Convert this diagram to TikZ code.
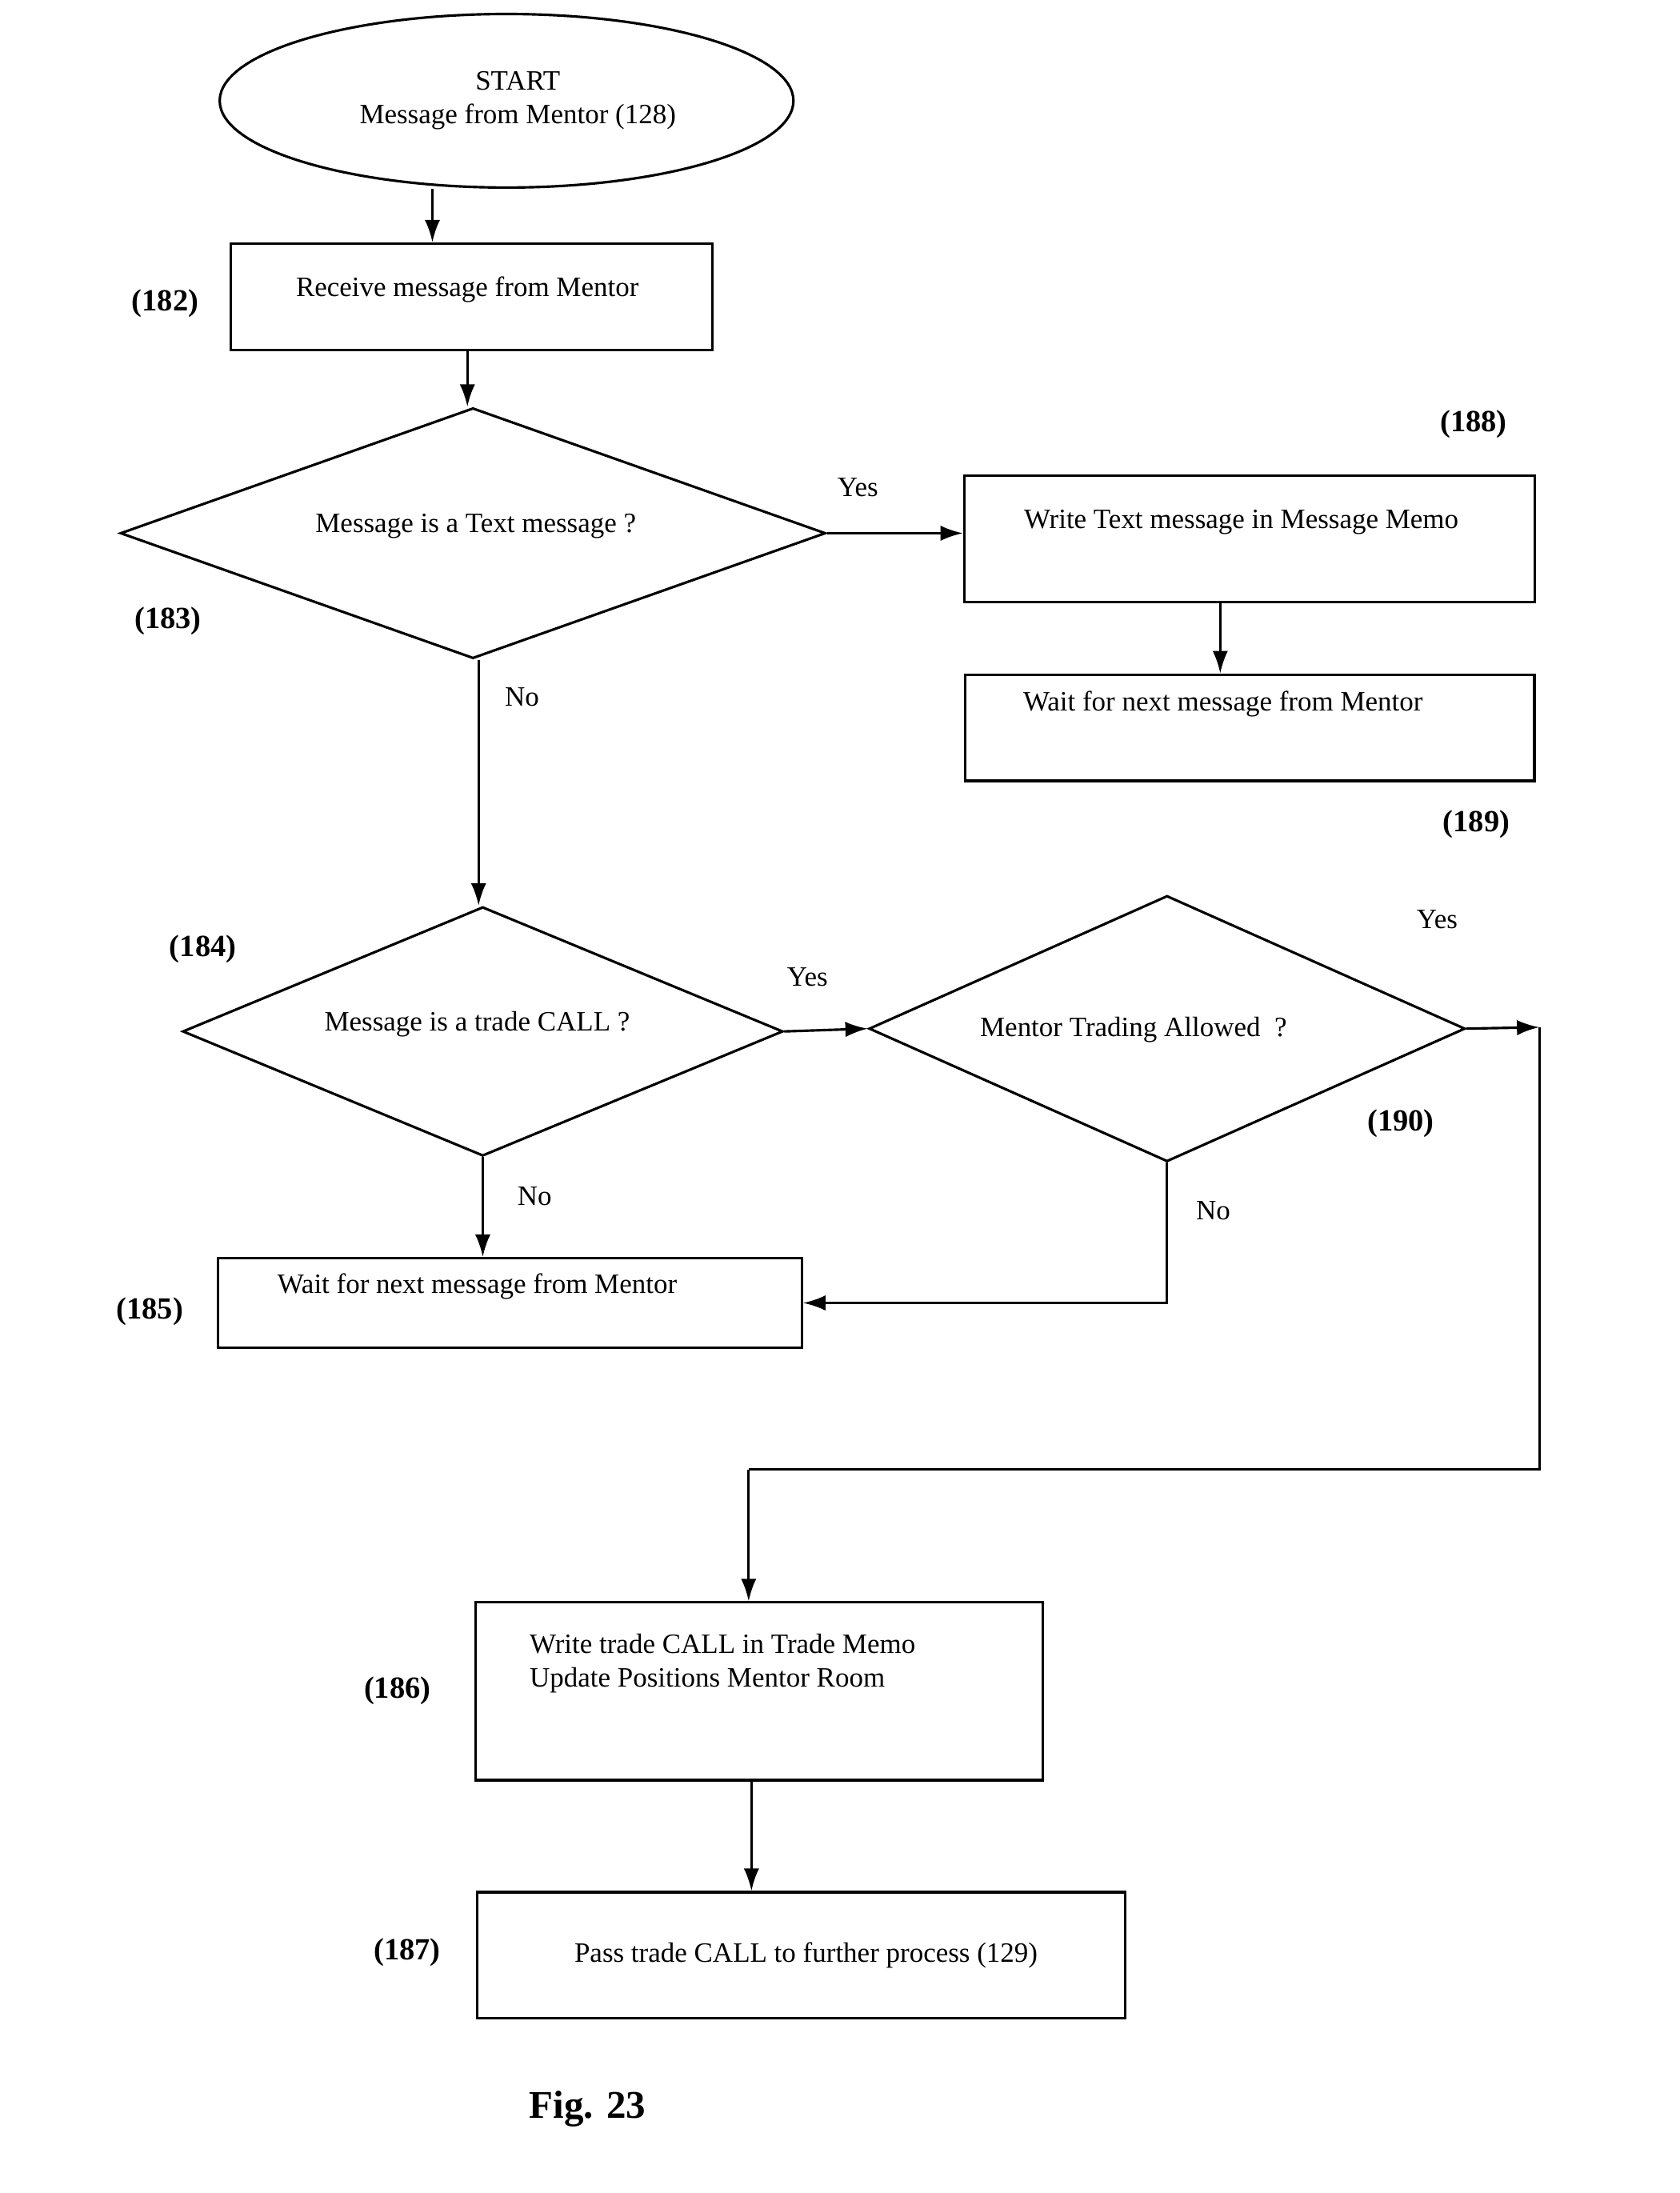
\documentclass[tikz,border=0pt]{standalone}
\usepackage{fontspec}
\setmainfont{Liberation Serif}
\usetikzlibrary{shapes.geometric,arrows.meta}
\begin{document}
\begin{tikzpicture}[x=1pt,y=-1pt,
  every node/.style={font=\fontsize{20}{24}\selectfont},
  box/.style={draw,line width=1.8pt,inner sep=0pt,rectangle},
  dia/.style={draw,line width=1.8pt,diamond,inner sep=0pt},
  lab/.style={font=\fontsize{22}{26}\selectfont\bfseries},
  ar/.style={line width=1.8pt,-{Latex[length=16pt,width=11pt]}},
  ln/.style={line width=1.8pt}]
\useasboundingbox (0,0) rectangle (1200,1567);
\node[draw,line width=1.8pt,ellipse,minimum width=410,minimum height=124,inner sep=0pt] (start) at (362,72) {};
\node[align=center] (starttext) at (370,72) {START\\Message from Mentor (128)};
\node[box,minimum width=344,minimum height=76] (b182) at (337,212) {};
\node (t182) at (334,207) {Receive message from Mentor};
\node[lab] (l182) at (118,217) {(182)};
\node[dia,minimum width=504,minimum height=179] (d183) at (338,381) {};
\node (t183) at (340,376) {Message is a Text message ?};
\node[lab] (l183) at (120,444) {(183)};
\node[box,minimum width=408,minimum height=90] (b188) at (893,385) {};
\node (t188) at (887,373) {Write Text message in Message Memo};
\node[lab] (l188) at (1053,303) {(188)};
\node[box,minimum width=407,minimum height=76] (b189) at (893,520) {};
\node (t189) at (874,503) {Wait for next message from Mentor};
\node[lab] (l189) at (1055,589) {(189)};
\node[dia,minimum width=429,minimum height=178] (d184) at (345,737) {};
\node (t184) at (341,732) {Message is a trade CALL ?};
\node[lab] (l184) at (145,678) {(184)};
\node[dia,minimum width=426,minimum height=190] (d190) at (834,735) {};
\node (t190) at (810,736) {Mentor Trading Allowed\ \ ?};
\node[lab] (l190) at (1001,803) {(190)};
\node[box,minimum width=417,minimum height=64] (b185) at (364.5,931) {};
\node (t185) at (341,919) {Wait for next message from Mentor};
\node[lab] (l185) at (107,937) {(185)};
\node[box,minimum width=405,minimum height=127] (b186) at (542.5,1208.5) {};
\node[align=left,anchor=north west] (t186) at (375,1164) {Write trade CALL in Trade Memo\\Update Positions Mentor Room};
\node[lab] (l186) at (284,1208) {(186)};
\node[box,minimum width=463,minimum height=90] (b187) at (572.5,1397) {};
\node (t187) at (576,1397) {Pass trade CALL to further process (129)};
\node[lab] (l187) at (291,1395) {(187)};
\node[font=\fontsize{28}{32}\selectfont\bfseries] (fig) at (420,1507) {Fig. 23};
\node (y1) at (613,348) {Yes};
\node (n1) at (373,498) {No};
\node (y2) at (577,698) {Yes};
\node (n2) at (382,855) {No};
\node (y3) at (1027,657) {Yes};
\node (n3) at (867,865) {No};
\coordinate (c1) at (1100,734);
\draw[ar] (start.south -| b182.north) ++(-28,0) coordinate (s0) -- (s0 |- b182.north);
\draw[ar] (b182.south -| 334,0) -- (d183.north -| 334,0);
\draw[ar] (d183.east) -- (b188.west |- d183.east);
\draw[ar] (b188.south -| 872,0) -- (b189.north -| 872,0);
\draw[ar] (d183.south) ++(4,0) coordinate (s1) -- (s1 |- d184.north);
\draw[ar] (d184.east) -- (d190.west);
\draw[ar] (d184.south) -- (d184.south |- b185.north);
\draw[ar] (d190.east) -- (c1);
\draw[ln] (c1) -- (1100,1050) -- (535,1050);
\draw[ar] (535,1050) -- (535,1050 |- b186.north);
\draw[ar,rounded corners=0] (d190.south) -- (d190.south |- b185.east) -- (b185.east);
\draw[ar] (b186.south -| 537,0) -- (b187.north -| 537,0);
\end{tikzpicture}
\end{document}
